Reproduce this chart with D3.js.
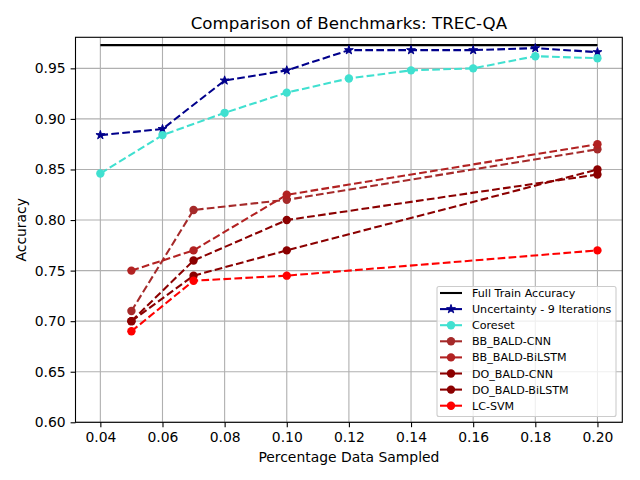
<!DOCTYPE html>
<html><head><meta charset="utf-8">
<script src="https://cdn.jsdelivr.net/npm/d3@7"></script>
<style>body{margin:0;background:#fff}svg{font-family:"DejaVu Sans",sans-serif}</style>
</head><body>
<script>
const xTicks = [0.04,0.06,0.08,0.10,0.12,0.14,0.16,0.18,0.20];
const yTicks = [0.60,0.65,0.70,0.75,0.80,0.85,0.90,0.95];
const xFull = [0.04,0.20];
const fullTrain = [0.973,0.973];
const xUnc = [0.04,0.06,0.08,0.10,0.12,0.14,0.16,0.18,0.20];
const uncertainty = [0.884,0.890,0.938,0.948,0.968,0.968,0.968,0.970,0.966];
const coreset = [0.846,0.884,0.906,0.926,0.940,0.948,0.950,0.962,0.960];
const xBald = [0.05,0.07,0.10,0.20];
const bbCnn = [0.71,0.81,0.82,0.87];
const bbBilstm = [0.75,0.77,0.825,0.875];
const doCnn = [0.70,0.76,0.80,0.845];
const doBilstm = [0.70,0.745,0.77,0.85];
const lcSvm = [0.69,0.74,0.745,0.77];

const series = [
  {name:"Full Train Accuracy", x:xFull, y:fullTrain, color:"#000000", dash:null, marker:null},
  {name:"Uncertainty - 9 Iterations", x:xUnc, y:uncertainty, color:"#00008b", dash:"7.7,3.3", marker:"star"},
  {name:"Coreset", x:xUnc, y:coreset, color:"#40e0d0", dash:"7.7,3.3", marker:"circle"},
  {name:"BB_BALD-CNN", x:xBald, y:bbCnn, color:"#a52a2a", dash:"7.7,3.3", marker:"circle"},
  {name:"BB_BALD-BiLSTM", x:xBald, y:bbBilstm, color:"#b22222", dash:"7.7,3.3", marker:"circle"},
  {name:"DO_BALD-CNN", x:xBald, y:doCnn, color:"#8b0000", dash:"7.7,3.3", marker:"circle"},
  {name:"DO_BALD-BiLSTM", x:xBald, y:doBilstm, color:"#8b0000", dash:"7.7,3.3", marker:"circle"},
  {name:"LC-SVM", x:xBald, y:lcSvm, color:"#ff0000", dash:"7.7,3.3", marker:"circle"}
];

const W=640,H=480;
const L=75.5,R=622.3,T=37.3,B=422.3;
const svg=d3.select("body").append("svg").attr("width",W).attr("height",H);
const x=d3.scaleLinear().domain([0.032,0.208]).range([L,R]);
const y=d3.scaleLinear().domain([0.60,0.9807]).range([B,T]);

// grid
const g=svg.append("g");
g.selectAll(".gx").data(xTicks).enter().append("line")
  .attr("x1",d=>x(d)).attr("x2",d=>x(d)).attr("y1",T).attr("y2",B)
  .attr("stroke","#b0b0b0").attr("stroke-width",1.1);
g.selectAll(".gy").data(yTicks).enter().append("line")
  .attr("y1",d=>y(d)).attr("y2",d=>y(d)).attr("x1",L).attr("x2",R)
  .attr("stroke","#b0b0b0").attr("stroke-width",1.1);

const star=d3.symbol().type(d3.symbolStar).size(24);
const line=d3.line();
series.forEach(s=>{
  const pts=s.x.map((v,i)=>[x(v),y(s.y[i])]);
  svg.append("path").attr("d",line(pts)).attr("fill","none")
    .attr("stroke",s.color).attr("stroke-width",2.08)
    .attr("stroke-dasharray",s.dash);
  pts.forEach(p=>{
    if(s.marker==="circle") svg.append("circle").attr("cx",p[0]).attr("cy",p[1]).attr("r",4.2).attr("fill",s.color);
    else if(s.marker==="star") svg.append("path").attr("d",star()).attr("transform",`translate(${p[0]},${p[1]})`).attr("fill",s.color).attr("stroke",s.color).attr("stroke-width",1);
  });
});

// axes
const xAxis=d3.axisBottom(x).tickValues(xTicks).tickFormat(d3.format(".2f")).tickSizeOuter(0).tickSize(4.9).tickPadding(4.9);
const yAxis=d3.axisLeft(y).tickValues(yTicks).tickFormat(d3.format(".2f")).tickSizeOuter(0).tickSize(4.9).tickPadding(4.9);
const gx=svg.append("g").attr("transform",`translate(0,${B})`).call(xAxis);
const gy=svg.append("g").attr("transform",`translate(${L},0)`).call(yAxis);
[gx,gy].forEach(a=>{a.select(".domain").remove();a.selectAll("text").attr("font-size","13.9px").attr("fill","#000").attr("font-family","DejaVu Sans");a.selectAll("line").attr("stroke","#000").attr("stroke-width",1.1);});
svg.append("rect").attr("x",L).attr("y",T).attr("width",R-L).attr("height",B-T).attr("fill","none").attr("stroke","#000").attr("stroke-width",1.1);

svg.append("text").attr("x",(L+R)/2).attr("y",29).attr("text-anchor","middle").attr("font-size","16.7px").text("Comparison of Benchmarks: TREC-QA");
svg.append("text").attr("x",(L+R)/2).attr("y",462).attr("text-anchor","middle").attr("font-size","13.9px").text("Percentage Data Sampled");
svg.append("text").attr("transform","translate(26,"+((T+B)/2)+") rotate(-90)").attr("text-anchor","middle").attr("font-size","13.9px").text("Accuracy");

// legend
const lg=svg.append("g");
lg.append("rect").attr("x",437).attr("y",286.5).attr("width",179).attr("height",130).attr("rx",2)
  .attr("fill","#fff").attr("fill-opacity",0.8).attr("stroke","#cccccc").attr("stroke-width",1.1);
series.forEach((s,i)=>{
  const yy=293+i*16.1;
  lg.append("line").attr("x1",440).attr("x2",462).attr("y1",yy).attr("y2",yy).attr("stroke",s.color).attr("stroke-width",2.08);
  if(s.marker==="circle") lg.append("circle").attr("cx",451).attr("cy",yy).attr("r",4.2).attr("fill",s.color);
  else if(s.marker==="star") lg.append("path").attr("d",star()).attr("transform",`translate(451,${yy})`).attr("fill",s.color).attr("stroke",s.color).attr("stroke-width",1);
  lg.append("text").attr("x",472).attr("y",yy+4).attr("font-size","11.1px").text(s.name);
});
</script>
</body></html>
